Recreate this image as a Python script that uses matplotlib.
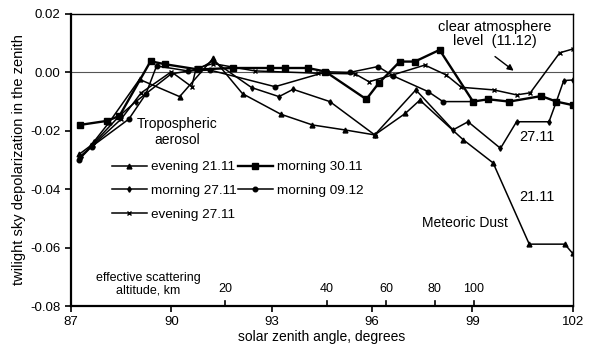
import matplotlib
matplotlib.use("Agg")
import matplotlib.pyplot as plt

plt.rcParams['font.family'] = ['Liberation Sans', 'DejaVu Sans']

# evening 21.11 (triangles)
e2111_x = [87.25, 87.6, 88.15, 89.05, 90.25, 91.25, 92.13, 93.27, 94.22, 95.19, 96.08,
           97.0, 97.43, 98.72, 99.62, 100.7, 101.76, 102.0]
e2111_y = [-0.028, -0.025, -0.017, -0.0024, -0.0083, 0.0048, -0.0073, -0.0143, -0.018, -0.0197, -0.0214,
           -0.014, -0.0095, -0.023, -0.031, -0.0588, -0.0588, -0.062]

# morning 30.11 (squares)
m3011_x = [87.26, 88.08, 88.45, 89.38, 89.81, 90.8, 91.85, 92.95, 93.39, 94.08, 94.6, 95.83,
           96.2, 96.83, 97.28, 98.02, 99.02, 99.47, 100.1, 101.06, 101.51, 102.0]
m3011_y = [-0.018, -0.0166, -0.0149, 0.0038, 0.0028, 0.001, 0.0015, 0.0015, 0.0015, 0.0015, 0.0003, -0.0092,
           -0.0037, 0.0037, 0.0037, 0.0077, -0.010, -0.0092, -0.010, -0.0081, -0.010, -0.0112]

# morning 27.11 (small diamonds)
m2711_x = [87.3, 87.7, 88.45, 88.94, 90.0, 90.8, 91.25, 92.4, 93.22, 93.64, 94.74, 96.08, 97.31,
           98.42, 98.87, 99.84, 100.32, 101.29, 101.51, 101.73, 102.0]
m2711_y = [-0.029, -0.024, -0.0149, -0.010, -0.0005, 0.001, 0.004, -0.0052, -0.0083, -0.0058, -0.010, -0.0214, -0.006,
           -0.0197, -0.0169, -0.026, -0.0169, -0.0169, -0.010, -0.0028, -0.0026]

# morning 09.12 (circles)
m0912_x = [87.23, 87.62, 88.73, 89.24, 89.56, 90.5, 91.15, 93.1, 94.64, 95.34, 96.18, 96.63,
           97.68, 98.12, 99.02]
m0912_y = [-0.030, -0.0254, -0.016, -0.0074, 0.0022, 0.0005, 0.0008, -0.0049, 0.0002, 0.0, 0.002, -0.0012,
           -0.0066, -0.010, -0.010]

# evening 27.11 (crosses)
e2711_x = [87.25, 87.65, 88.5, 89.1, 90.0, 90.61, 90.74, 91.25, 92.5, 94.4, 95.49, 95.91, 96.61,
           97.58, 98.22, 98.67, 99.64, 100.32, 100.73, 101.61, 102.0]
e2711_y = [-0.029, -0.025, -0.016, -0.007, 0.0002, -0.0049, 0.0014, 0.003, 0.0005, -0.0003, -0.0005, -0.0032, -0.0009,
           0.0025, -0.0009, -0.0051, -0.006, -0.0077, -0.007, 0.0067, 0.008]

altitude_pos = [91.62, 94.64, 96.43, 97.88, 99.05]
altitude_lbl = ['20', '40', '60', '80', '100']

fig = plt.figure(figsize=(5.96, 3.49), dpi=100)
ax = fig.add_axes([0.119, 0.123, 0.842, 0.837])

ax.axhline(0, color='#555555', lw=0.8, zorder=1)

l1, = ax.plot(e2111_x, e2111_y, color='black', lw=1.1, marker='^', ms=3.5, label='evening 21.11')
l2, = ax.plot(m3011_x, m3011_y, color='black', lw=1.7, marker='s', ms=3.8, label='morning 30.11')
l3, = ax.plot(m2711_x, m2711_y, color='black', lw=1.1, marker='d', ms=2.8, label='morning 27.11')
l4, = ax.plot(m0912_x, m0912_y, color='black', lw=1.1, marker='o', ms=3.3, label='morning 09.12')
l5, = ax.plot(e2711_x, e2711_y, color='black', lw=1.1, marker='x', ms=2.8, mew=1, label='evening 27.11')

ax.set_xlim(87, 102)
ax.set_ylim(-0.08, 0.02)
ax.set_xticks([87, 90, 93, 96, 99, 102])
ax.set_yticks([-0.08, -0.06, -0.04, -0.02, 0.0, 0.02])
ax.set_yticklabels(['-0.08', '-0.06', '-0.04', '-0.02', '0.00', '0.02'])
ax.tick_params(labelsize=9.5, direction='out', length=4, width=1.2)
for s in ax.spines.values():
    s.set_linewidth(1.0)
ax.spines['bottom'].set_linewidth(1.6)
ax.spines['left'].set_linewidth(1.6)

# altitude ticks inside the bottom axis
for xp, lb in zip(altitude_pos, altitude_lbl):
    ax.plot([xp, xp], [-0.08, -0.0782], color='black', lw=1.2, clip_on=False)
    ax.text(xp, -0.0743, lb, ha='center', va='center', fontsize=9)
ax.text(89.31, -0.0703, 'effective scattering', ha='center', va='center', fontsize=9)
ax.text(89.31, -0.0745, 'altitude, km', ha='center', va='center', fontsize=9)

ax.set_xlabel('solar zenith angle, degrees', fontsize=10, labelpad=1)
ax.set_ylabel('twilight sky depolarization in the zenith', fontsize=10.5, labelpad=3)

ax.text(90.17, -0.0203, 'Tropospheric\naerosol', ha='center', va='center', fontsize=10, linespacing=1.15)
ax.text(99.67, 0.0131, 'clear atmosphere\nlevel  (11.12)', ha='center', va='center', fontsize=10.5,
        linespacing=1.05)
ax.annotate('', xy=(100.3, 0.0), xytext=(99.61, 0.006),
            arrowprops=dict(arrowstyle='-|>', color='black', lw=1.0, mutation_scale=9))
ax.text(100.92, -0.0220, '27.11', ha='center', va='center', fontsize=10.5)
ax.text(100.92, -0.0426, '21.11', ha='center', va='center', fontsize=10.5)
ax.text(98.79, -0.0515, 'Meteoric Dust', ha='center', va='center', fontsize=10)

ax.legend([l1, l3, l5, l2, l4], ['evening 21.11', 'morning 27.11', 'evening 27.11',
                                 'morning 30.11', 'morning 09.12'],
          ncol=2, frameon=False, fontsize=9.7, loc='upper left', bbox_to_anchor=(0.081, 0.497),
          handlelength=2.6, handletextpad=0.3, columnspacing=0.1, labelspacing=0.85,
          borderaxespad=0, borderpad=0)

fig.savefig('out.png', dpi=100)
